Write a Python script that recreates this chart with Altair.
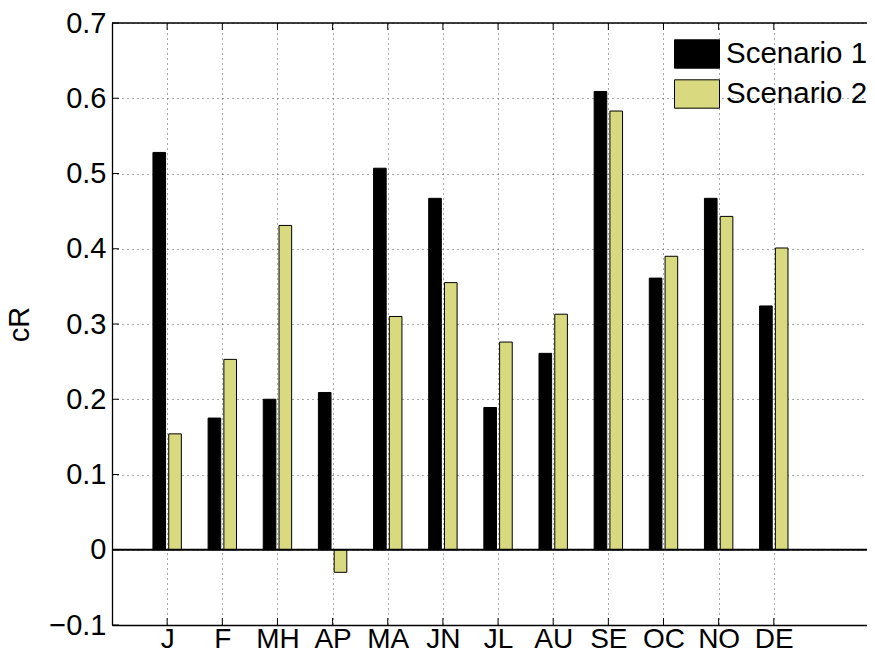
import altair as alt
import pandas as pd

months = ["J", "F", "MH", "AP", "MA", "JN", "JL", "AU", "SE", "OC", "NO", "DE"]
scenario1 = [0.528, 0.175, 0.200, 0.209, 0.507, 0.467, 0.189, 0.261, 0.609, 0.361, 0.467, 0.324]
scenario2 = [0.154, 0.253, 0.431, -0.030, 0.310, 0.355, 0.276, 0.313, 0.583, 0.390, 0.443, 0.401]
series_names = ["Scenario 1", "Scenario 2"]
y_ticks = [-0.1, 0.0, 0.1, 0.2, 0.3, 0.4, 0.5, 0.6, 0.7]
x_ticks = list(range(1, len(months) + 1))

rows = []
for i, m in enumerate(months):
    rows.append({"idx": i + 1, "month": m, "series": series_names[0], "value": scenario1[i]})
    rows.append({"idx": i + 1, "month": m, "series": series_names[1], "value": scenario2[i]})
df = pd.DataFrame(rows)

W, H = 755, 602
FONT = "Liberation Sans"
xscale = alt.Scale(domain=[0, 13.69], nice=False, zero=False)
yscale = alt.Scale(domain=[-0.1, 0.7], nice=False, zero=False)

label_arr = "[" + ",".join("'" + m + "'" for m in months) + "]"

x_axis = alt.Axis(orient="bottom", values=x_ticks, labelExpr=label_arr + "[datum.value-1]",
                  title=None, ticks=False, grid=True, gridDash=[1, 4],
                  gridColor="#555", gridWidth=1, domain=True,
                  domainColor="black", domainWidth=1.3,
                  labelPadding=0, labelFontSize=28, labelFont=FONT,
                  labelColor="black")
y_axis = alt.Axis(orient="left", values=y_ticks,
                  labelExpr="abs(datum.value) < 1e-9 ? '0' : replace(format(datum.value, '.1f'), /[-\u2212]/, '\u2212')",
                  title="cR", titleFontSize=29, titleFont=FONT,
                  titleFontWeight="normal", titleColor="black",
                  titlePadding=14,
                  ticks=False, grid=True, gridDash=[1, 4], gridColor="#555",
                  gridWidth=1, domain=True, domainColor="black",
                  domainWidth=1.3, labelPadding=6, labelFontSize=29,
                  labelFont=FONT, labelColor="black")

bars = alt.Chart(df).transform_calculate(
    off="datum.series == 'Scenario 1' ? -0.143 : 0.143",
    zero="0",
).transform_calculate(
    x0="datum.idx + datum.off - 0.1145",
    x1="datum.idx + datum.off + 0.1145",
).mark_bar(stroke="black", strokeWidth=1).encode(
    x=alt.X("x0:Q", scale=xscale, axis=x_axis),
    x2="x1:Q",
    y=alt.Y("value:Q", scale=yscale, axis=y_axis),
    y2="zero:Q",
    color=alt.Color("series:N",
                    scale=alt.Scale(domain=series_names, range=["#000000", "#D9D97F"]),
                    legend=alt.Legend(title=None, orient="none", legendX=562, legendY=8,
                                      symbolType="M-1,-0.63L1,-0.63L1,0.63L-1,0.63Z",
                                      symbolSize=2025, symbolStrokeColor="black",
                                      symbolStrokeWidth=1, symbolOpacity=1,
                                      labelFontSize=29.5, labelFont=FONT,
                                      labelColor="black", labelOffset=6,
                                      rowPadding=-8, padding=0, symbolOffset=0)),
)

zero_line = alt.Chart(pd.DataFrame({"v": [0.0]})).mark_rule(color="black", strokeWidth=2).encode(
    y=alt.Y("v:Q", scale=yscale, axis=y_axis)
)
top_line = alt.Chart(pd.DataFrame({"v": [0.7]})).mark_rule(color="black", strokeWidth=1.3).encode(
    y=alt.Y("v:Q", scale=yscale, axis=y_axis)
)

ytick_df = pd.DataFrame({"v": y_ticks})
xtick_df = pd.DataFrame({"t": x_ticks})
yticks_l = alt.Chart(ytick_df).mark_rule(color="black", strokeWidth=1).encode(
    y=alt.Y("v:Q", scale=yscale, axis=y_axis), x=alt.value(0), x2=alt.value(7)
)
xticks_b = alt.Chart(xtick_df).mark_rule(color="black", strokeWidth=1).encode(
    x=alt.X("t:Q", scale=xscale, axis=x_axis), y=alt.value(H), y2=alt.value(H - 7)
)
xticks_t = alt.Chart(xtick_df).mark_rule(color="black", strokeWidth=1).encode(
    x=alt.X("t:Q", scale=xscale, axis=x_axis), y=alt.value(0), y2=alt.value(7)
)

chart = alt.layer(bars, zero_line, top_line, yticks_l, xticks_b, xticks_t).resolve_axis(
    x="shared", y="shared"
).properties(
    width=W, height=H,
    autosize=alt.AutoSizeParams(type="none"),
    padding={"left": 104, "top": 15, "right": 0, "bottom": 24},
    view=alt.ViewBackground(stroke="transparent", strokeWidth=0, strokeOpacity=0),
).configure_view(stroke="transparent", strokeWidth=0, strokeOpacity=0).configure(background="white")

chart.save("out.html", embed_options={"renderer": "svg", "actions": False})
